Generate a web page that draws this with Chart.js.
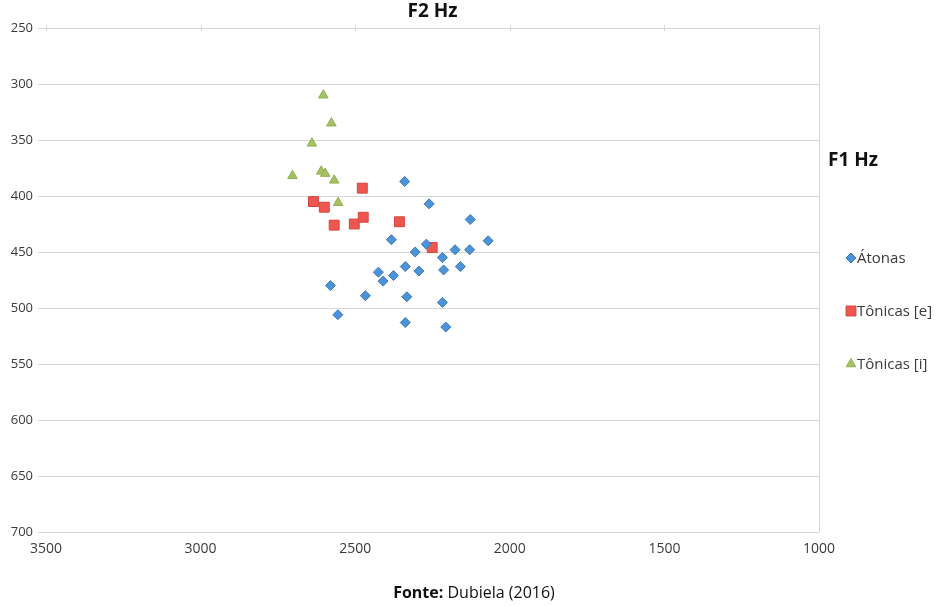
<!DOCTYPE html>
<html>
<head>
<meta charset="utf-8">
<script src="https://cdn.jsdelivr.net/npm/chart.js@4.4.1/dist/chart.umd.min.js"></script>
<style>
  html, body { margin: 0; padding: 0; background: #fff; }
  #c { display: block; }
</style>
</head>
<body>
<canvas id="c" width="946" height="606"></canvas>
<script>
// F2 (x) and F1 (y) values in Hz
const F2_ATONAS = [2340, 2261, 2128, 2383, 2270, 2070, 2306, 2177, 2130, 2218, 2425, 2338,
                   2294, 2214, 2160, 2376, 2410, 2580, 2467, 2333, 2218, 2556, 2338, 2207];
const F1_ATONAS = [387, 407, 421, 439, 443, 440, 450, 448, 448, 455, 468, 463,
                   467, 466, 463, 471, 476, 480, 489, 490, 495, 506, 513, 517];

const F2_TONICAS_E = [2477, 2635, 2600, 2568, 2503, 2474, 2357, 2251];
const F1_TONICAS_E = [393, 405, 410, 426, 425, 419, 423, 446];

const F2_TONICAS_I = [2603, 2577, 2640, 2703, 2610, 2597, 2568, 2555];
const F1_TONICAS_I = [310, 335, 353, 382, 378, 380, 386, 406];

const SERIES_NAMES = ["Átonas", "Tônicas [e]", "Tônicas [i]"];
const X_TICKS = [3500, 3000, 2500, 2000, 1500, 1000];
const Y_TICKS = [250, 300, 350, 400, 450, 500, 550, 600, 650, 700];

const X_TITLE = "F2 Hz";
const Y_TITLE = "F1 Hz";
const SOURCE_BOLD = "Fonte:";
const SOURCE_TEXT = " Dubiela (2016)";

const FONT = "'Open Sans', 'DejaVu Sans', sans-serif";
const TEXT_COLOR = "#3a3a3a";
const GRID_COLOR = "#d6d6d6";

const toPoints = (xs, ys) => xs.map((x, i) => ({ x: x, y: ys[i] }));

Chart.defaults.font.family = FONT;
Chart.defaults.color = TEXT_COLOR;

// ---------------------------------------------------------------------------
// texts that sit outside the plot: axis titles, the legend and the source line
// ---------------------------------------------------------------------------
const decorations = {
  id: "decorations",
  afterDraw(chart) {
    const ctx = chart.ctx;
    const area = chart.chartArea;
    ctx.save();
    ctx.fillStyle = "#111";
    ctx.textBaseline = "middle";

    ctx.font = "bold 19px " + FONT;
    ctx.textAlign = "center";
    ctx.fillText(X_TITLE, (area.left + area.right) / 2, 12);

    ctx.textAlign = "left";
    ctx.fillText(Y_TITLE, 828, 161);

    // small tick marks on the top edge
    ctx.strokeStyle = GRID_COLOR;
    ctx.lineWidth = 1;
    const xs = chart.scales.x;
    X_TICKS.forEach((v) => {
      const px = Math.round(xs.getPixelForValue(v)) + 0.5;
      ctx.beginPath();
      ctx.moveTo(px, area.top - 3);
      ctx.lineTo(px, area.top + 3);
      ctx.stroke();
    });

    // legend
    ctx.font = "15px " + FONT;
    const legendY = [258, 311, 364];
    chart.data.datasets.forEach((ds, i) => {
      ctx.fillStyle = ds.backgroundColor;
      ctx.strokeStyle = ds.borderColor;
      ctx.lineWidth = 1;
      Chart.helpers.drawPoint(ctx, {
        pointStyle: ds.pointStyle,
        radius: ds.pointRadius,
        rotation: 0,
        borderWidth: 1,
      }, 851, legendY[i]);
      ctx.fillStyle = TEXT_COLOR;
      ctx.fillText(ds.label, 857, legendY[i] + 1);
    });

    // source
    ctx.font = "bold 16px " + FONT;
    const wBold = ctx.measureText(SOURCE_BOLD).width;
    ctx.font = "16px " + FONT;
    const wText = ctx.measureText(SOURCE_TEXT).width;
    const start = 474 - (wBold + wText) / 2;
    ctx.fillStyle = "#111";
    ctx.font = "bold 16px " + FONT;
    ctx.fillText(SOURCE_BOLD, start, 593);
    ctx.font = "16px " + FONT;
    ctx.fillText(SOURCE_TEXT, start + wBold, 593);
    ctx.restore();
  },
};

new Chart(document.getElementById("c"), {
  type: "scatter",
  data: {
    datasets: [
      {
        label: SERIES_NAMES[0],
        data: toPoints(F2_ATONAS, F1_ATONAS),
        pointStyle: "rectRot",
        pointRadius: 5,
        backgroundColor: "#4d93d9",
        borderColor: "#3b78ba",
        borderWidth: 1,
      },
      {
        label: SERIES_NAMES[1],
        data: toPoints(F2_TONICAS_E, F1_TONICAS_E),
        pointStyle: "rect",
        pointRadius: 7,
        backgroundColor: "#ee5750",
        borderColor: "#d8443d",
        borderWidth: 1,
      },
      {
        label: SERIES_NAMES[2],
        data: toPoints(F2_TONICAS_I, F1_TONICAS_I),
        pointStyle: "triangle",
        pointRadius: 5.5,
        backgroundColor: "#a6c265",
        borderColor: "#8fae4f",
        borderWidth: 1,
      },
    ],
  },
  options: {
    responsive: false,
    animation: false,
    layout: { padding: { top: 28, right: 127, left: 0, bottom: 0 } },
    plugins: {
      legend: { display: false },
      tooltip: { enabled: false },
    },
    scales: {
      x: {
        type: "linear",
        reverse: true,
        min: 1000,
        max: 3500,
        afterBuildTicks: (axis) => { axis.ticks = X_TICKS.map((v) => ({ value: v })); },
        afterFit: (axis) => { axis.height = 74; },
        border: { display: false },
        grid: {
          drawTicks: false,
          color: (c) => (c.tick && c.tick.value === 1000 ? GRID_COLOR : "rgba(0,0,0,0)"),
        },
        ticks: {
          padding: 9,
          font: { size: 14 },
          color: TEXT_COLOR,
          maxRotation: 0,
          callback: (v) => String(v),
        },
      },
      y: {
        type: "linear",
        reverse: true,
        min: 250,
        max: 700,
        afterBuildTicks: (axis) => { axis.ticks = Y_TICKS.map((v) => ({ value: v })); },
        afterFit: (axis) => { axis.width = 46; },
        border: { display: false },
        grid: { color: GRID_COLOR, tickLength: 8, drawTicks: true },
        ticks: { padding: 5, font: { size: 13 }, color: TEXT_COLOR, callback: (v) => String(v) },
      },
    },
  },
  plugins: [decorations],
});
</script>
</body>
</html>
